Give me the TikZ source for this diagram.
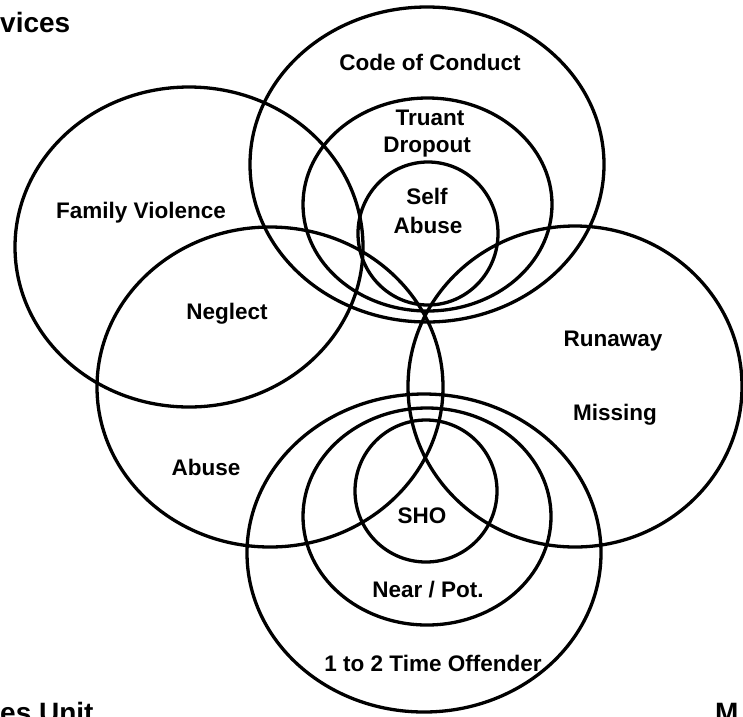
\documentclass[tikz,border=0pt]{standalone}
\usepackage{fontspec}
\setmainfont{Liberation Sans}
\begin{document}
\begin{tikzpicture}[x=1pt,y=-1pt,
  ring/.style={draw=black,line width=3.3pt},
  lbl/.style={font=\fontsize{22.5}{26}\selectfont\bfseries,inner sep=0pt,anchor=base},
  head/.style={font=\fontsize{28}{32}\selectfont\bfseries,inner sep=0pt,anchor=base west}]
\clip (0,0) rectangle (743,716);
\fill[white] (0,0) rectangle (743,716);
% top group
\draw[ring] (427,164.5) ellipse [x radius=177pt, y radius=157.5pt];
\draw[ring] (427.5,204.5) ellipse [x radius=124.5pt, y radius=106.5pt];
\draw[ring] (428,233.5) ellipse [x radius=70pt, y radius=71.5pt];
% left pair
\draw[ring] (189,247) ellipse [x radius=174pt, y radius=160pt];
\draw[ring] (270,387) ellipse [x radius=173pt, y radius=160pt];
% right
\draw[ring] (575,386.5) ellipse [x radius=167pt, y radius=160.5pt];
% bottom group
\draw[ring] (424,553) ellipse [x radius=177pt, y radius=159pt];
\draw[ring] (427,516.5) ellipse [x radius=124pt, y radius=108.5pt];
\draw[ring] (426,491) ellipse [x radius=71pt, y radius=71pt];
% labels
\node[lbl] (coc) at (430,70) {Code of Conduct};
\node[lbl] (tru) at (430,125) {Truant};
\node[lbl] (dro) at (427,152) {Dropout};
\node[lbl] (slf) at (427,204) {Self};
\node[lbl] (sab) at (428,233) {Abuse};
\node[lbl] (fam) at (141,218) {Family Violence};
\node[lbl] (neg) at (227,319) {Neglect};
\node[lbl] (abu) at (206,475) {Abuse};
\node[lbl] (run) at (613,346) {Runaway};
\node[lbl] (mis) at (615,420) {Missing};
\node[lbl] (sho) at (422,523) {SHO};
\node[lbl] (nea) at (428,597) {Near / Pot.};
\node[lbl] (off) at (433,671) {1 to 2 Time Offender};
\node[head] (svc) at (0,32) {vices};
\node[head] (unt) at (0,722) {es Unit};
\node[head] (mm) at (715,722) {M};
\end{tikzpicture}
\end{document}
